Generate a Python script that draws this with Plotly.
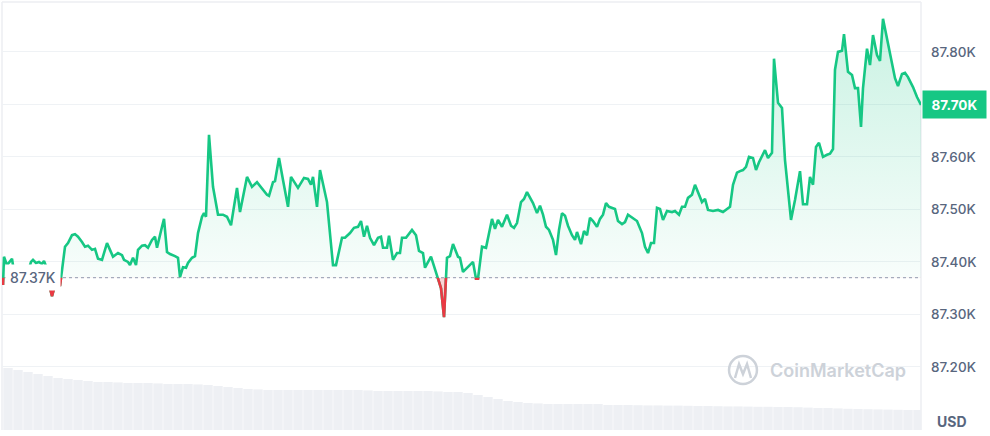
import plotly.graph_objects as go

# ---------------- data ----------------
minutes = [0, 1.5, 6, 13.5, 15, 19.5, 28.5, 37.5, 42, 45, 49.5, 54, 58.5, 61.5, 64.5, 67.5, 70.5, 73.5, 78, 82.5,
           85.5, 88.5, 93, 97.5, 103.5, 108, 112.5, 118.5, 123, 127.5, 133.5, 138, 142.5, 148.5, 156, 160.5, 165,
           172.5, 178.5, 181.5, 187.5, 190.5, 195, 199.5, 202.5, 208.5, 213, 217.5, 223.5, 228, 231, 238.5, 241.5,
           246, 250.5, 258, 262.5, 265.5, 270, 274.5, 277.5, 283.5, 288, 292.5, 298.5, 301.5, 304.5, 309, 315,
           322.5, 330, 336, 342, 351, 355.5, 366, 373.5, 381, 388.5, 396, 399, 405, 408, 414, 420, 427.5, 432,
           436.5, 442.5, 451.5, 457.5, 462, 465, 471, 475.5, 486, 495, 499.5, 508.5, 513, 520.5, 526.5, 532.5,
           537, 541.5, 546, 550.5, 556.5, 562.5, 567, 570, 576, 579, 585, 591, 595.5, 598.5, 604.5, 613.5, 619.5,
           624, 630, 633, 642, 649.5, 652.5, 657, 661.5, 666, 670.5, 675, 682.5, 685.5, 690, 697.5, 705, 709.5,
           712.5, 718.5, 724.5, 733.5, 738, 742.5, 748.5, 756, 762, 766.5, 771, 777, 781.5, 786, 790.5, 795, 801,
           805.5, 810, 814.5, 819, 825, 829.5, 834, 838.5, 843, 847.5, 853.5, 858, 861, 867, 871.5, 876, 880.5,
           885, 891, 895.5, 900, 904.5, 909, 918, 922.5, 928.5, 933, 937.5, 945, 951, 958.5, 963, 967.5, 972,
           976.5, 981, 985.5, 990, 996, 1003.5, 1008, 1014, 1018.5, 1023, 1027.5, 1033.5, 1038, 1042.5, 1048.5,
           1053, 1057.5, 1065, 1072.5, 1080, 1086, 1090.5, 1095, 1101, 1105.5, 1110, 1114.5, 1119, 1125, 1129.5,
           1134, 1140, 1143, 1147.5, 1153.5, 1156.5, 1162.5, 1168.5, 1173, 1182, 1188, 1195.5, 1200, 1206,
           1210.5, 1215, 1219.5, 1224, 1230, 1236, 1240.5, 1245, 1248, 1252.5, 1258.5, 1261.5, 1267.5, 1273.5,
           1278, 1282.5, 1287, 1290, 1296, 1300.5, 1305, 1311, 1315.5, 1320, 1326, 1333.5, 1338, 1342.5, 1348.5,
           1353, 1357.5, 1365, 1371, 1377]

prices = [87356, 87410, 87394, 87406, 87394, 87375, 87368, 87381, 87400, 87404, 87398, 87400, 87396, 87402, 87392,
          87366, 87350, 87335, 87356, 87362, 87354, 87389, 87429, 87436, 87451, 87453, 87448, 87438, 87429, 87431,
          87423, 87425, 87406, 87404, 87436, 87423, 87410, 87417, 87413, 87404, 87400, 87394, 87408, 87394, 87423,
          87431, 87432, 87427, 87442, 87448, 87427, 87467, 87482, 87419, 87415, 87411, 87408, 87371, 87390, 87389,
          87398, 87408, 87411, 87455, 87486, 87493, 87486, 87642, 87543, 87490, 87490, 87486, 87470, 87541, 87495,
          87562, 87543, 87552, 87541, 87528, 87526, 87552, 87554, 87598, 87556, 87505, 87562, 87554, 87541, 87560,
          87558, 87547, 87562, 87505, 87575, 87514, 87394, 87394, 87446, 87446, 87455, 87465, 87467, 87478, 87448,
          87469, 87446, 87432, 87446, 87448, 87427, 87427, 87450, 87404, 87417, 87417, 87446, 87446, 87461, 87451,
          87421, 87417, 87389, 87410, 87381, 87368, 87350, 87295, 87408, 87411, 87434, 87410, 87408, 87381, 87390,
          87400, 87368, 87368, 87429, 87427, 87482, 87463, 87480, 87467, 87490, 87469, 87465, 87474, 87514, 87520,
          87533, 87522, 87512, 87493, 87507, 87490, 87467, 87461, 87442, 87413, 87461, 87493, 87488, 87469, 87451,
          87442, 87457, 87434, 87459, 87451, 87484, 87478, 87467, 87482, 87490, 87512, 87505, 87501, 87478, 87472,
          87476, 87490, 87484, 87478, 87455, 87429, 87417, 87436, 87436, 87503, 87501, 87480, 87497, 87495, 87497,
          87490, 87505, 87505, 87522, 87528, 87547, 87533, 87514, 87520, 87499, 87497, 87499, 87495, 87501, 87505,
          87547, 87570, 87573, 87575, 87581, 87600, 87598, 87575, 87590, 87604, 87613, 87598, 87608, 87787, 87703,
          87693, 87594, 87480, 87518, 87573, 87510, 87510, 87562, 87547, 87619, 87627, 87600, 87604, 87606, 87615,
          87766, 87800, 87802, 87834, 87762, 87756, 87731, 87731, 87657, 87731, 87806, 87775, 87832, 87794, 87783,
          87863, 87823, 87775, 87750, 87735, 87758, 87760, 87752, 87733, 87714, 87699]

BASE = 87370          # opening price (baseline)
LAST_LABEL = "87.70K"
BASE_LABEL = "87.37K"

vol_minutes = [i * 15 + 7.5 for i in range(92)]
volumes = [31, 30, 29, 28, 27, 26, 25.5, 25, 24.5, 24, 24, 23.8, 23.5, 23.5, 23.5, 23.3, 23, 23, 23, 22.8,
           22.5, 22, 21.5, 21, 20.5, 20.3, 20, 20, 20, 20, 20, 20, 20, 20, 20, 20, 19.8, 19.5, 19.5, 19.5,
           19.5, 19.5, 19.5, 19.3, 19, 19, 18.5, 17.5, 16.5, 15.5, 14.5, 14, 13.5, 13.3, 13, 13, 13, 13, 13, 13,
           12.5, 12.5, 12.5, 12.4, 12.3, 12.3, 12.2, 12.2, 12.1, 12, 12, 11.9, 11.8, 11.8, 11.7, 11.6, 11.6, 11.5,
           11.5, 11.4, 11.2, 11, 11, 10.8, 10.6, 10.5, 10.4, 10.3, 10.2, 10.1, 10, 10]

tick_vals = [87200, 87300, 87400, 87500, 87600, 87700, 87800]
# the 87.70K tick label sits under the current-price tag
tick_text = ["87.20K", "87.30K", "87.40K", "87.50K", "87.60K", "", "87.80K"]

# ---------------- style ----------------
GREEN = "#16c784"
RED = "#ea3943"
GRID = "#eff2f5"
TXT = "#58667e"
X_RANGE = [-1.5, 1377]
Y_RANGE = [87080, 87895]
d_base = (BASE - Y_RANGE[0]) / (Y_RANGE[1] - Y_RANGE[0])
n = len(prices)
base_line = [BASE] * n

fig = go.Figure()

# volume bars (overlay of main y)
fig.add_trace(go.Bar(x=vol_minutes, y=volumes, xaxis="x", yaxis="y6",
                     marker=dict(color="#eef0f4", line=dict(width=0)), hoverinfo="skip"))

# baseline dotted
fig.add_trace(go.Scatter(x=[minutes[0], minutes[-1]], y=[BASE, BASE], mode="lines", xaxis="x", yaxis="y",
                         line=dict(color="#a6b0c3", width=1.3, dash="dot"), hoverinfo="skip"))

# green fill (clipped above baseline)
fig.add_trace(go.Scatter(x=minutes, y=base_line, mode="lines", xaxis="x", yaxis="y2",
                         line=dict(width=0), hoverinfo="skip"))
fig.add_trace(go.Scatter(x=minutes, y=prices, mode="lines", xaxis="x", yaxis="y2", fill="tonexty",
                         line=dict(width=0), hoverinfo="skip",
                         fillgradient=dict(type="vertical", start=BASE, stop=max(prices),
                                           colorscale=[[0, "rgba(22,199,132,0.03)"],
                                                       [1, "rgba(22,199,132,0.23)"]])))

# red fill (clipped below baseline)
fig.add_trace(go.Scatter(x=minutes, y=base_line, mode="lines", xaxis="x", yaxis="y3",
                         line=dict(width=0), hoverinfo="skip"))
fig.add_trace(go.Scatter(x=minutes, y=prices, mode="lines", xaxis="x", yaxis="y3", fill="tonexty",
                         fillcolor="rgba(234,57,67,0.22)", line=dict(width=0), hoverinfo="skip"))

# green line (full)
fig.add_trace(go.Scatter(x=minutes, y=prices, mode="lines", xaxis="x", yaxis="y4",
                         line=dict(color=GREEN, width=2.6), hoverinfo="skip"))
# red line (clipped below baseline)
fig.add_trace(go.Scatter(x=minutes, y=prices, mode="lines", xaxis="x", yaxis="y5",
                         line=dict(color=RED, width=2.6), hoverinfo="skip"))

hidden = dict(visible=False, showgrid=False, zeroline=False, anchor="x")

fig.update_layout(
    width=990, height=436,
    margin=dict(l=2, r=69, t=2, b=6),
    paper_bgcolor="white", plot_bgcolor="rgba(0,0,0,0)",
    showlegend=False, bargap=0.06,
    font=dict(family="Inter, Roboto, sans-serif", color=TXT),
    xaxis=dict(range=X_RANGE, visible=False, showgrid=False, zeroline=False, fixedrange=True),
    yaxis=dict(range=Y_RANGE, domain=[0, 1], side="right", tickvals=tick_vals, ticktext=tick_text,
               showgrid=True, gridcolor=GRID, gridwidth=1, zeroline=False, showline=False,
               ticks="", ticklabelstandoff=9, tickfont=dict(size=13.5, color=TXT, weight=500),
               anchor="x"),
    yaxis2=dict(range=[BASE, Y_RANGE[1]], domain=[d_base, 1], **hidden),
    yaxis3=dict(range=[Y_RANGE[0], BASE], domain=[0, d_base], **hidden),
    yaxis4=dict(range=Y_RANGE, domain=[0, 1], **hidden),
    yaxis5=dict(range=[Y_RANGE[0], BASE], domain=[0, d_base], **hidden),
    yaxis6=dict(range=[0, 214], overlaying="y", visible=False, showgrid=False, zeroline=False),
)

# frame lines
for x0, y0, x1, y1 in [(0, 1, 1, 1), (0, 0, 0, 1), (1, 0, 1, 1)]:
    fig.add_shape(type="line", xref="paper", yref="paper", x0=x0, y0=y0, x1=x1, y1=y1,
                  line=dict(color="#eceef2", width=1.5), layer="below")

# labels
fig.add_annotation(xref="paper", yref="y", x=1, y=prices[-1], xanchor="left", xshift=1,
                   text=f"<b>{LAST_LABEL}</b>", showarrow=False, bgcolor=GREEN, borderpad=5,
                   width=53, height=17, font=dict(size=13.5, color="white"))
fig.add_annotation(xref="paper", yref="y", x=0, y=BASE, xanchor="left", xshift=3,
                   text=BASE_LABEL, showarrow=False, bgcolor="white", borderpad=4,
                   font=dict(size=14, color=TXT, weight=500))
fig.add_annotation(xref="paper", yref="paper", x=1.0337, y=0.0187, xanchor="center", yanchor="middle",
                   text="<b>USD</b>", showarrow=False, font=dict(size=14, color=TXT))

# watermark
WM = "#cdd2d9"
fig.add_annotation(xref="paper", yref="paper", x=0.8335, y=0.14, xanchor="left", yanchor="middle",
                   text="CoinMarketCap", showarrow=False, font=dict(size=18, color=WM, weight=600))
fig.add_shape(type="circle", xref="paper", yref="paper", x0=0.7911, x1=0.8215, y0=0.1075, y1=0.1729,
              line=dict(color=WM, width=2.5))
fig.add_shape(type="path", xref="paper", yref="paper",
              path="M 0.7976,0.1215 L 0.8020,0.1542 L 0.8063,0.1308 L 0.8107,0.1542 L 0.8150,0.1215",
              line=dict(color=WM, width=2.5))

fig.write_html("out.html", config={"displayModeBar": False},
               post_script="document.body.style.margin='0';document.body.style.overflow='hidden';")
